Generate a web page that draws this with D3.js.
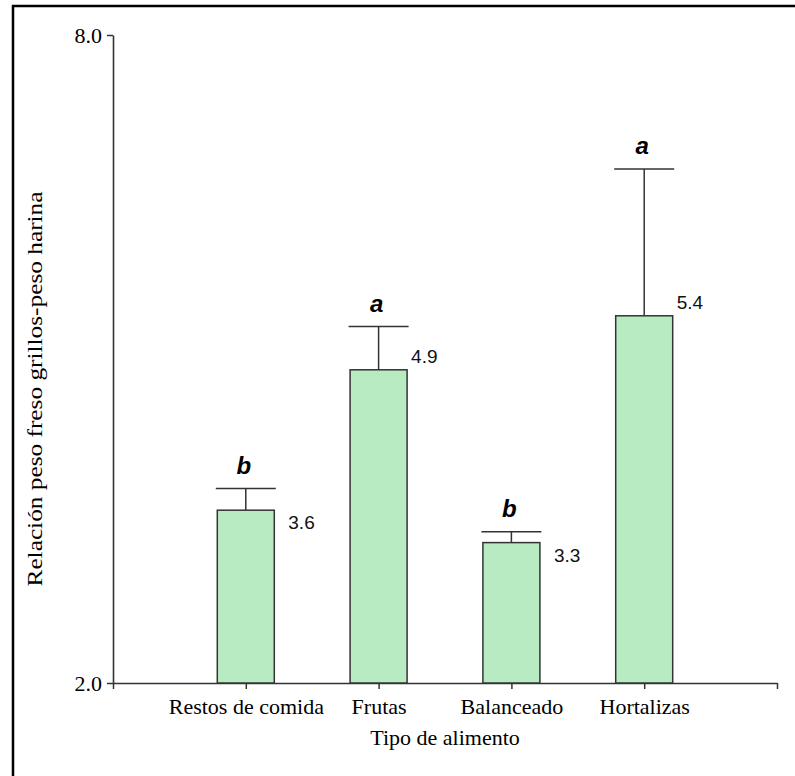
<!DOCTYPE html>
<html>
<head>
<meta charset="utf-8">
<script src="https://cdn.jsdelivr.net/npm/d3@7"></script>
<style>
  html, body { margin: 0; padding: 0; background: #fff; }
  svg { display: block; }
</style>
</head>
<body>
<svg id="chart" width="795" height="776"></svg>
<script>
// Fresh cricket weight to meal weight ratio by food type
const categories = ["Restos de comida", "Frutas", "Balanceado", "Hortalizas"];
const means      = [3.6, 4.9, 3.3, 5.4];
const errors     = [0.2, 0.4, 0.1, 1.36];
const groups     = ["b", "a", "b", "a"];
const yTicks     = [2.0, 8.0];

const svg = d3.select("#chart");
const ink = "#333";

// outer frame
svg.append("rect")
  .attr("x", 13).attr("y", 6)
  .attr("width", 800).attr("height", 800)
  .attr("fill", "none").attr("stroke", "#000").attr("stroke-width", 2.5);

const plotLeft = 113, plotRight = 777, plotTop = 35, plotBottom = 683;

const x = d3.scaleLinear().domain([0, categories.length + 1]).range([plotLeft, plotRight]);
const y = d3.scaleLinear().domain([2, 8]).range([plotBottom, plotTop]);
const barW = 57;

// x axis: one tick per food type plus the two ends
const xAxis = d3.axisBottom(x)
  .tickValues(d3.range(0, categories.length + 2))
  .tickFormat(i => (i >= 1 && i <= categories.length) ? categories[i - 1] : "")
  .tickSize(6).tickSizeOuter(0).tickPadding(9);

const gx = svg.append("g").attr("transform", `translate(0,${plotBottom})`).call(xAxis);
gx.selectAll("text")
  .attr("font-family", "'Liberation Serif', 'Times New Roman', serif")
  .attr("font-size", 22).attr("fill", "#000");

const yAxis = d3.axisLeft(y)
  .tickValues(yTicks)
  .tickFormat(d3.format(".1f"))
  .tickSize(6).tickSizeOuter(0).tickPadding(5);

const gy = svg.append("g").attr("transform", `translate(${plotLeft},0)`).call(yAxis);
gy.selectAll("text")
  .attr("font-family", "'Liberation Serif', 'Times New Roman', serif")
  .attr("font-size", 22).attr("fill", "#000");

[gx, gy].forEach(g => {
  g.selectAll("path, line").attr("stroke", ink).attr("stroke-width", 1.5);
  g.select(".domain").attr("stroke-width", 1.6);
});

const data = categories.map((c, i) => ({
  c, i, v: means[i], e: errors[i], g: groups[i], cx: x(i + 1)
}));

// error bars (upper whisker only)
const eb = svg.append("g").attr("stroke", ink).attr("stroke-width", 1.5);
eb.selectAll("line.stem").data(data).join("line").attr("class", "stem")
  .attr("x1", d => d.cx).attr("x2", d => d.cx)
  .attr("y1", d => y(d.v)).attr("y2", d => y(d.v + d.e));
eb.selectAll("line.cap").data(data).join("line").attr("class", "cap")
  .attr("x1", d => d.cx - 30).attr("x2", d => d.cx + 30)
  .attr("y1", d => y(d.v + d.e)).attr("y2", d => y(d.v + d.e));

// bars
svg.append("g").selectAll("rect").data(data).join("rect")
  .attr("x", d => d.cx - barW / 2)
  .attr("width", barW)
  .attr("y", d => y(d.v))
  .attr("height", d => y(2) - y(d.v))
  .attr("fill", "#b9ebc2")
  .attr("stroke", ink).attr("stroke-width", 1.5);

// mean labels: next to the whisker when it is long, otherwise beside the bar top
const longWhisker = d => y(d.v) - y(d.v + d.e) > 30;
svg.append("g").selectAll("text").data(data).join("text")
  .attr("x", d => d.cx + barW / 2 + (longWhisker(d) ? 4 : 14))
  .attr("y", d => y(d.v) + (longWhisker(d) ? -7 : 19))
  .attr("font-family", "'Liberation Sans', Arial, sans-serif")
  .attr("font-size", 19).attr("fill", "#111")
  .text(d => d.v.toFixed(1));

// significance letters
svg.append("g").selectAll("text").data(data).join("text")
  .attr("x", d => d.cx - 2)
  .attr("y", d => y(d.v + d.e) - 15)
  .attr("text-anchor", "middle")
  .attr("font-family", "'Liberation Sans', Arial, sans-serif")
  .attr("font-size", 24).attr("font-weight", "bold").attr("font-style", "italic")
  .attr("fill", "#000")
  .text(d => d.g);

// axis titles
svg.append("text")
  .attr("x", (plotLeft + plotRight) / 2).attr("y", 745)
  .attr("text-anchor", "middle")
  .attr("font-family", "'Liberation Serif', 'Times New Roman', serif")
  .attr("font-size", 22).attr("fill", "#000")
  .text("Tipo de alimento");

svg.append("text")
  .attr("transform", "translate(42,389) rotate(-90)")
  .attr("text-anchor", "middle")
  .attr("font-family", "'Liberation Serif', 'Times New Roman', serif")
  .attr("font-size", 21).attr("fill", "#000")
  .attr("textLength", 395).attr("lengthAdjust", "spacingAndGlyphs")
  .text("Relación peso freso grillos-peso harina");
</script>
</body>
</html>
